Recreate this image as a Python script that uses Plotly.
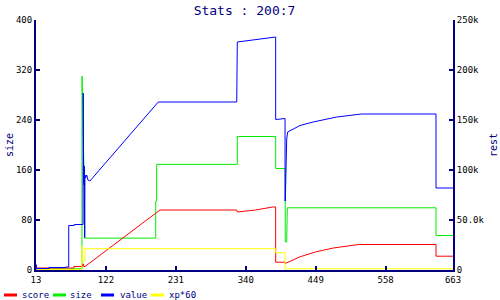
import plotly.graph_objects as go

# ---- data ----
x_ticks = [13, 122, 231, 340, 449, 558, 663]
left_ticks = [0, 80, 160, 240, 320, 400]
right_ticks = [0, 50000, 100000, 150000, 200000, 250000]
right_tick_text = ["0", "50.0k", "100k", "150k", "200k", "250k"]

value_x = [13, 13, 14, 33, 33, 58.7, 58.7, 64, 64, 72.7, 72.7, 86.4, 86.7, 87.2, 87.7, 88.2, 88.9, 89.3,
           90.2, 92, 94, 97, 203.6, 325.9, 325.9, 326.8, 326.8, 386.6, 386.6, 401.2, 401.2, 401.6,
           403.8, 405.3, 424.5, 445, 481.7, 520.7, 636.5, 636.5, 663]
value_y = [0, 5500, 1500, 1500, 2500, 2500, 3000, 3000, 44500, 44500, 45500, 45500, 177000, 100000,
           85000, 104000, 32500, 95000, 92000, 95000, 90000, 89000, 168000, 168000, 198000, 198000,
           228000, 233000, 150500, 151500, 69000, 69000, 131000, 138000, 144500, 148000, 153000,
           156000, 156000, 82000, 82000]

size_x = [13, 84.6, 84.8, 86.5, 87.5, 88.6, 88.8, 199.6, 199.6, 201.1, 201.1, 326.8, 326.8, 386.6,
          386.6, 401.5, 401.5, 403.8, 403.8, 404.7, 404.7, 636.5, 636.5, 663]
size_y = [2, 2, 310, 180, 166, 166, 51, 51, 110, 110, 169, 169, 213.6, 213.6, 162.4, 162.4, 45, 45,
          72.8, 72.8, 99.5, 99.5, 55.2, 55.2]

score_x = [13, 72, 72, 85.5, 85.5, 87, 87.5, 89.4, 206.3, 325.9, 326.8, 340, 355, 382, 386.6, 386.6,
           401.2, 401.5, 403.8, 424.5, 448.4, 476.4, 515.7, 636.5, 636.5, 663]
score_y = [2000, 2000, 3500, 3500, 6000, 6000, 3500, 3500, 60000, 60000, 58000, 59000, 60000, 63000,
           63000, 7800, 7800, 6500, 7200, 13200, 18000, 22000, 25500, 25500, 13800, 13800]

xp_x = [13, 84.5, 84.7, 85.5, 88.9, 89.2, 386.6, 386.6, 401.2, 401.2, 663]
xp_y = [600, 600, 24000, 9000, 9000, 21300, 21300, 17200, 17200, 1200, 1200]

legend_names = ["score", "size", "value", "xp*60"]
legend_colors = ["#ff0000", "#00ee00", "#0000ff", "#ffff00"]

NAVY = "#000080"
MONO = "DejaVu Sans Mono"

fig = go.Figure()
fig.add_trace(go.Scatter(x=size_x, y=size_y, mode="lines", name="size",
                         line=dict(color=legend_colors[1], width=1), yaxis="y"))
fig.add_trace(go.Scatter(x=score_x, y=score_y, mode="lines", name="score",
                         line=dict(color=legend_colors[0], width=1), yaxis="y2"))
fig.add_trace(go.Scatter(x=xp_x, y=xp_y, mode="lines", name="xp*60",
                         line=dict(color=legend_colors[3], width=1), yaxis="y2"))
fig.add_trace(go.Scatter(x=value_x, y=value_y, mode="lines", name="value",
                         line=dict(color=legend_colors[2], width=1), yaxis="y2"))

# geometry of the plot area (pixels)
L, R, T, B = 36, 47, 20, 30
PW, PH = 500 - L - R, 300 - T - B


def px2paper_x(px):
    return (px - L) / PW


def py2paper_y(py):
    return (300 - B - py) / PH


shapes = []
annotations = []
leg_line_px = [(4, 17), (53, 66), (101, 114), (151, 164)]
leg_text_px = [20, 68, 118, 167]
for (a, b), tx, name, col in zip(leg_line_px, leg_text_px, legend_names, legend_colors):
    shapes.append(dict(type="line", xref="paper", yref="paper",
                       x0=px2paper_x(a), x1=px2paper_x(b),
                       y0=py2paper_y(295), y1=py2paper_y(295),
                       line=dict(color=col, width=3)))
    annotations.append(dict(text=name, xref="paper", yref="paper", x=px2paper_x(tx),
                            y=py2paper_y(295), xanchor="left", yanchor="middle",
                            showarrow=False, font=dict(family=MONO, size=9, color=NAVY)))

annotations.append(dict(text="size", xref="paper", yref="paper", x=px2paper_x(9),
                        y=0.5, textangle=-90, xanchor="center", yanchor="middle",
                        showarrow=False, font=dict(family=MONO, size=10, color=NAVY)))
annotations.append(dict(text="rest", xref="paper", yref="paper", x=px2paper_x(493),
                        y=0.5, textangle=-90, xanchor="center", yanchor="middle",
                        showarrow=False, font=dict(family=MONO, size=10, color=NAVY)))

axis_common = dict(showgrid=False, zeroline=False, showline=True, linecolor=NAVY, linewidth=2,
                   ticks="inside", ticklen=4, tickwidth=2, tickcolor=NAVY,
                   tickfont=dict(family=MONO, size=9, color="black"))

fig.update_layout(
    width=500, height=300,
    margin=dict(l=L, r=R, t=T, b=B, pad=0),
    paper_bgcolor="white", plot_bgcolor="white",
    showlegend=False,
    title=dict(text="Stats : 200:7", x=0.5, xref="paper", y=1 - 10 / 300, yanchor="middle",
               font=dict(family=MONO, size=13, color=NAVY)),
    xaxis=dict(range=[13, 663], tickmode="array", tickvals=x_ticks,
               ticktext=[str(v) for v in x_ticks], **axis_common),
    yaxis=dict(range=[0, 400], tickmode="array", tickvals=left_ticks,
               ticktext=[str(v) for v in left_ticks], **axis_common),
    yaxis2=dict(range=[0, 250000], overlaying="y", side="right", tickmode="array",
                tickvals=right_ticks, ticktext=right_tick_text, **axis_common),
    shapes=shapes,
    annotations=annotations,
)

fig.write_html("out.html")
